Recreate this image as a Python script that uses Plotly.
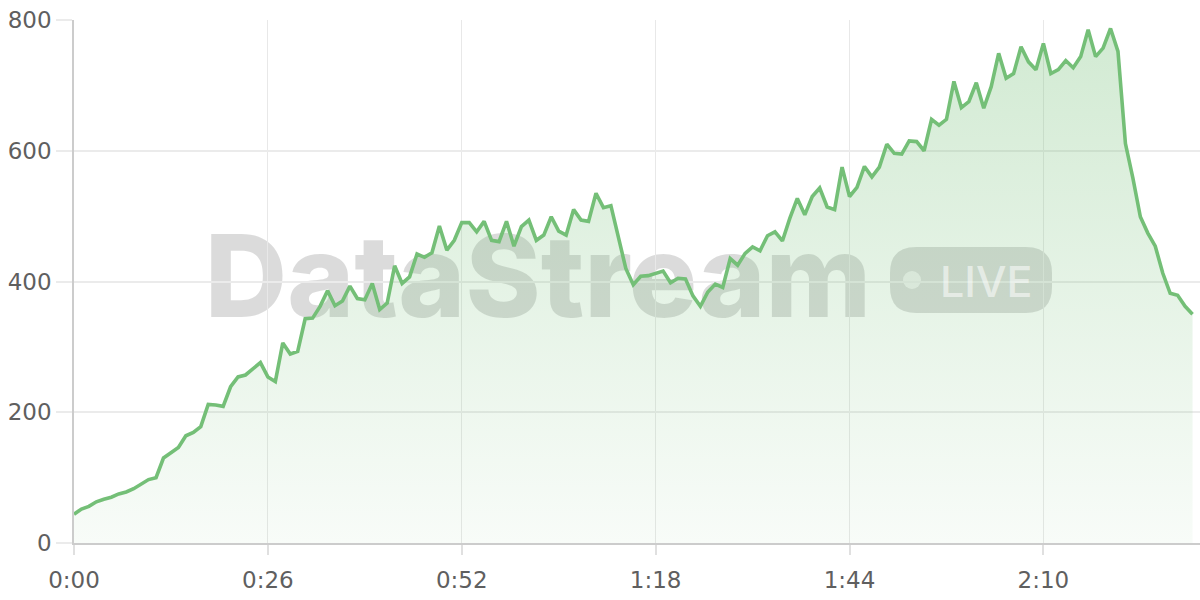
import plotly.graph_objects as go

# Values per second (0..150 s)
values = [
    44, 52, 56, 63, 67, 70, 75, 78, 83, 90,
    97, 100, 130, 138, 146, 164, 169, 178, 212, 211,
    209, 239, 254, 257, 267, 276, 254, 247, 306, 289,
    293, 343, 344, 362, 386, 363, 370, 393, 374, 372,
    397, 357, 367, 424, 397, 407, 442, 437, 444, 485,
    448, 463, 490, 490, 476, 492, 463, 461, 492, 454,
    484, 494, 463, 471, 499, 477, 471, 510, 494, 492,
    535, 513, 516, 469, 420, 395, 408, 409, 413, 416,
    398, 405, 404, 378, 362, 384, 396, 391, 435, 425,
    443, 453, 447, 470, 476, 462, 497, 527, 502, 530,
    543, 514, 510, 575, 530, 544, 576, 560, 575, 610,
    596, 595, 615, 614, 600, 648, 639, 648, 706, 666,
    675, 704, 665, 698, 749, 711, 718, 759, 736, 724,
    764, 718, 724, 738, 727, 744, 785, 744, 757, 787,
    752, 611, 558, 499, 474, 454, 413, 382, 379, 362,
    350,
]
seconds = list(range(len(values)))

x_tick_vals = [0, 26, 52, 78, 104, 130]
x_tick_text = ["0:00", "0:26", "0:52", "1:18", "1:44", "2:10"]
y_tick_vals = [0, 200, 400, 600, 800]

LINE = "rgb(116,191,119)"

fig = go.Figure()
fig.add_trace(go.Scatter(
    x=seconds, y=values, mode="lines",
    line=dict(color=LINE, width=3.6),
    fill="tozeroy",
    fillgradient=dict(
        type="vertical",
        colorscale=[[0, "rgba(116,191,119,0.05)"], [1, "rgba(116,191,119,0.33)"]],
        start=0, stop=800,
    ),
    hoverinfo="skip",
))

tick_font = dict(family="DejaVu Sans", size=23, color="#5f5f5f")

fig.update_layout(
    width=1200, height=600,
    margin=dict(l=74, r=0, t=20, b=57),
    paper_bgcolor="white", plot_bgcolor="white",
    showlegend=False,
    xaxis=dict(
        range=[0, 151], tickvals=x_tick_vals, ticktext=x_tick_text,
        showgrid=True, gridcolor="#e8e8e8", gridwidth=1,
        showline=True, linecolor="#cccccc", linewidth=1.5,
        ticks="outside", ticklen=10, tickcolor="#e0e0e0", tickwidth=1.5,
        ticklabelstandoff=6,
        tickfont=tick_font, zeroline=False, fixedrange=True, automargin=False,
    ),
    yaxis=dict(
        range=[0, 800], tickvals=y_tick_vals,
        showgrid=True, gridcolor="#ebebeb", gridwidth=1.5,
        showline=True, linecolor="#cccccc", linewidth=1.5,
        ticks="outside", ticklen=16, tickcolor="#ebebeb", tickwidth=1.5,
        tickfont=tick_font, zeroline=False, fixedrange=True, automargin=False,
    ),
)

# Watermark (drawn between grid and the data line)
cx, cy = (538 - 74) / 1126, (543 - 271) / 523
fig.add_shape(
    type="rect", xref="paper", yref="paper", layer="between",
    x0=cx - 0.01, x1=cx + 0.01, y0=cy - 0.01, y1=cy + 0.01,
    line=dict(width=0), fillcolor="rgba(0,0,0,0)",
    label=dict(text="DataStream", textposition="middle center",
               font=dict(family="Inter", size=114, color="rgba(0,0,0,0.14)", weight=800)),
)
bx, by = (971 - 74) / 1126, (543 - 280) / 523
w, h, r = 81, 33, 26
path = (f"M {-w + r},{-h} L {w - r},{-h} Q {w},{-h} {w},{-h + r} L {w},{h - r} "
        f"Q {w},{h} {w - r},{h} L {-w + r},{h} Q {-w},{h} {-w},{h - r} "
        f"L {-w},{-h + r} Q {-w},{-h} {-w + r},{-h} Z")
fig.add_shape(
    type="path", xref="paper", yref="paper", xsizemode="pixel", ysizemode="pixel",
    xanchor=bx, yanchor=by, path=path, layer="between",
    fillcolor="rgba(0,0,0,0.14)", line=dict(width=0),
)
fig.add_shape(
    type="circle", xref="paper", yref="paper", xsizemode="pixel", ysizemode="pixel",
    xanchor=bx, yanchor=by, x0=-68, x1=-50, y0=-9, y1=9, layer="between",
    fillcolor="rgba(255,255,255,0.62)", line=dict(width=0),
)
fig.add_annotation(
    text="LIVE", xref="paper", yref="paper",
    x=(986 - 74) / 1126, y=(543 - 281) / 523, xanchor="center", yanchor="middle",
    showarrow=False,
    font=dict(family="Inter", size=43, color="rgba(255,255,255,0.55)", weight=500),
)

fig.write_html("out.html", config={"displayModeBar": False},
               post_script="document.body.style.margin='0';")
